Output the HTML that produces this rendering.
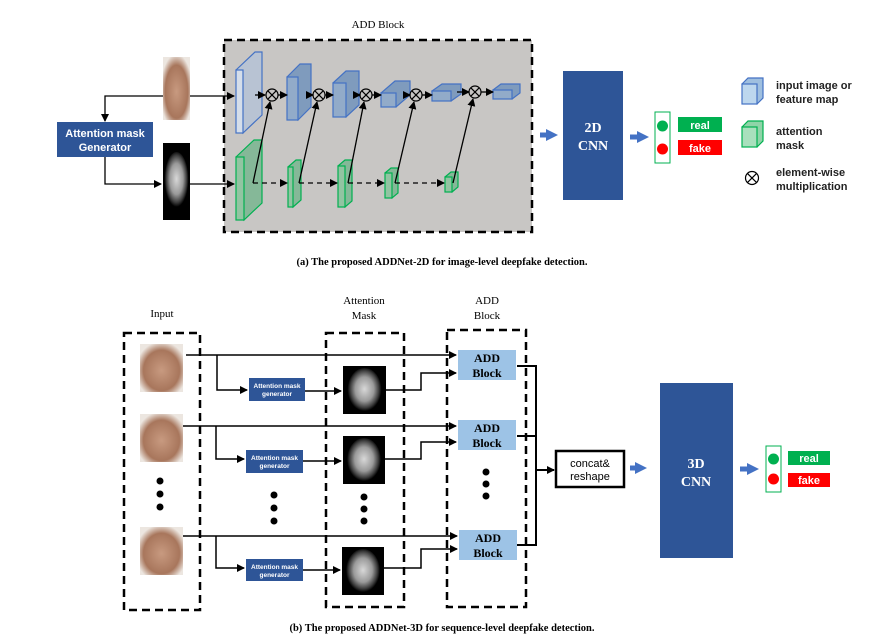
<!DOCTYPE html>
<html><head><meta charset="utf-8"><style>body{margin:0;background:#fff}svg{display:block}</style></head><body>
<svg width="884" height="643" viewBox="0 0 884 643" xmlns="http://www.w3.org/2000/svg" font-family="Liberation Sans, sans-serif">
<defs>
<marker id="a" markerWidth="8" markerHeight="8" refX="7" refY="4" orient="auto" markerUnits="userSpaceOnUse"><path d="M0,0 L8,4 L0,8z" fill="#000"/></marker>
<radialGradient id="m" cx="50%" cy="48%" r="50%"><stop offset="0" stop-color="#d8d8d8"/><stop offset="0.55" stop-color="#9a9a9a"/><stop offset="0.85" stop-color="#3a3a3a"/><stop offset="1" stop-color="#000"/></radialGradient>
<radialGradient id="f" cx="50%" cy="55%" r="60%"><stop offset="0" stop-color="#c89a80"/><stop offset="0.7" stop-color="#a8765c"/><stop offset="1" stop-color="#ece6e0"/></radialGradient>
<marker id="b" markerWidth="12" markerHeight="12" refX="6" refY="6" orient="auto" markerUnits="userSpaceOnUse"><path d="M0,0 L12,6 L0,12z" fill="#4472c4"/></marker>
</defs>
<!-- (a) -->
<text x="378" y="28" font-size="11" text-anchor="middle" font-family="Liberation Serif, serif">ADD Block</text>
<rect x="224" y="40" width="308" height="192" fill="#c8c6c4" stroke="#000" stroke-width="2.5" stroke-dasharray="8,5"/>
<rect x="163" y="57" width="27" height="63" fill="url(#f)"/>
<rect x="163" y="143" width="27" height="77" fill="#000"/>
<ellipse cx="176.5" cy="180" rx="12" ry="28" fill="url(#m)"/>
<rect x="57" y="122" width="96" height="35" fill="#2e5597"/>
<text x="105" y="137" font-size="11" fill="#fff" font-weight="bold" text-anchor="middle">Attention mask</text>
<text x="105" y="151" font-size="11" fill="#fff" font-weight="bold" text-anchor="middle">Generator</text>
<g stroke="#000" stroke-width="1.3" fill="none">
<polyline points="163,96 105,96 105,121" marker-end="url(#a)"/>
<polyline points="105,157 105,184 161,184" marker-end="url(#a)"/>
<line x1="190" y1="96" x2="234" y2="96" marker-end="url(#a)"/>
<line x1="190" y1="184" x2="234" y2="184" marker-end="url(#a)"/>
</g>
<g stroke-width="1.2">
<!-- blue cubes -->
<g fill="#8fa9c8" stroke="#4472c4">
<path d="M236,70 l19,-18 h7 v63 l-19,18z" fill="#b8c3d3"/><rect x="236" y="70" width="7" height="63" fill="#d5deea"/>
<path d="M287,77 l13,-13 h11 v43 l-13,13z" fill="#7f9bbd"/><rect x="287" y="77" width="11" height="43" fill="#92abc9"/>
<path d="M333,83 l13,-12 h13 v34 l-13,12z" fill="#7f9bbd"/><rect x="333" y="83" width="13" height="34" fill="#92abc9"/>
<path d="M381,93 l14,-12 h15 v14 l-14,12z" fill="#7f9bbd"/><rect x="381" y="93" width="15" height="14" fill="#92abc9"/>
<path d="M432,91 l10,-7 h19 v10 l-10,7z" fill="#7f9bbd"/><rect x="432" y="91" width="19" height="10" fill="#92abc9"/>
<path d="M493,90 l8,-6 h19 v9 l-8,6z" fill="#7f9bbd"/><rect x="493" y="90" width="19" height="9" fill="#92abc9"/>
</g>
<g stroke="#00b050">
<path d="M236,157 l18,-17 h8 v63 l-18,17z" fill="#85b898"/><rect x="236" y="157" width="8" height="63" fill="#92c4a2"/>
<path d="M288,167 l8,-7 h5 v40 l-8,7z" fill="#85b898"/><rect x="288" y="167" width="5" height="40" fill="#92c4a2"/>
<path d="M338,166 l7,-6 h7 v41 l-7,6z" fill="#85b898"/><rect x="338" y="166" width="7" height="41" fill="#92c4a2"/>
<path d="M385,173 l6,-5 h7 v25 l-6,5z" fill="#85b898"/><rect x="385" y="173" width="7" height="25" fill="#92c4a2"/>
<path d="M445,177 l6,-5 h7 v15 l-6,5z" fill="#85b898"/><rect x="445" y="177" width="7" height="15" fill="#92c4a2"/>
</g>
</g>
<g stroke="#000" stroke-width="1.3" fill="none">
<line x1="255" y1="95" x2="265" y2="95" marker-end="url(#a)"/>
<line x1="278" y1="95" x2="287" y2="95" marker-end="url(#a)"/>
<line x1="307" y1="95" x2="313" y2="95" marker-end="url(#a)"/>
<line x1="325" y1="95" x2="333" y2="95" marker-end="url(#a)"/>
<line x1="354" y1="95" x2="360" y2="95" marker-end="url(#a)"/>
<line x1="372" y1="95" x2="381" y2="95" marker-end="url(#a)"/>
<line x1="403" y1="95" x2="410" y2="95" marker-end="url(#a)"/>
<line x1="422" y1="95" x2="432" y2="95" marker-end="url(#a)"/>
<line x1="457" y1="92" x2="469" y2="92" marker-end="url(#a)"/>
<line x1="481" y1="92" x2="493" y2="92" marker-end="url(#a)"/>
<g stroke-dasharray="5,4">
<line x1="253" y1="183" x2="287" y2="183" marker-end="url(#a)"/>
<line x1="299" y1="183" x2="337" y2="183" marker-end="url(#a)"/>
<line x1="348" y1="183" x2="384" y2="183" marker-end="url(#a)"/>
<line x1="395" y1="183" x2="444" y2="183" marker-end="url(#a)"/>
</g>
<line x1="253" y1="183" x2="270" y2="102" marker-end="url(#a)"/>
<line x1="299" y1="183" x2="317" y2="102" marker-end="url(#a)"/>
<line x1="348" y1="183" x2="364" y2="102" marker-end="url(#a)"/>
<line x1="395" y1="183" x2="414" y2="102" marker-end="url(#a)"/>
<line x1="453" y1="183" x2="473" y2="99" marker-end="url(#a)"/>
</g>
<g stroke="#000" stroke-width="1.2" fill="none">
<g id="ot"><circle cx="272" cy="95" r="6"/><path d="M267.8,90.8l8.4,8.4M276.2,90.8l-8.4,8.4"/></g>
<use href="#ot" x="47"/><use href="#ot" x="94"/><use href="#ot" x="144"/><use href="#ot" x="203" y="-3"/>
</g>
<line x1="540" y1="135" x2="552" y2="135" stroke="#4472c4" stroke-width="5" marker-end="url(#b)"/>
<rect x="563" y="71" width="60" height="129" fill="#2e5597"/>
<text x="593" y="132" font-size="14" fill="#fff" font-weight="bold" text-anchor="middle" font-family="Liberation Serif, serif">2D</text>
<text x="593" y="150" font-size="14" fill="#fff" font-weight="bold" text-anchor="middle" font-family="Liberation Serif, serif">CNN</text>
<line x1="630" y1="137" x2="643" y2="137" stroke="#4472c4" stroke-width="5" marker-end="url(#b)"/>
<rect x="655" y="112" width="15" height="51" fill="#fff" stroke="#00b050" stroke-width="1"/>
<circle cx="662.5" cy="126" r="5.5" fill="#00b050"/><circle cx="662.5" cy="149" r="5.5" fill="#f00"/>
<rect x="678" y="117" width="44" height="15" fill="#00b050"/><text x="700" y="129" font-size="11" fill="#fff" font-weight="bold" text-anchor="middle">real</text>
<rect x="678" y="140" width="44" height="15" fill="#f00"/><text x="700" y="152" font-size="11" fill="#fff" font-weight="bold" text-anchor="middle">fake</text>
<path d="M742,84 l6,-6 h15 v20 l-6,6z" fill="#9fbfdf" stroke="#4472c4" stroke-width="1.2"/><rect x="742" y="84" width="15" height="20" fill="#bdd7ee" stroke="#4472c4" stroke-width="1.2"/>
<path d="M742,127 l6,-6 h15 v20 l-6,6z" fill="#8fd4a8" stroke="#00b050" stroke-width="1.2"/><rect x="742" y="127" width="15" height="20" fill="#a9e0bd" stroke="#00b050" stroke-width="1.2"/>
<g stroke="#000" stroke-width="1.2" fill="none"><circle cx="752" cy="178" r="6.5"/><path d="M747.4,173.4l9.2,9.2M756.6,173.4l-9.2,9.2"/></g>
<g font-size="11" font-weight="bold" fill="#222">
<text x="776" y="89">input image or</text><text x="776" y="103">feature map</text>
<text x="776" y="135">attention</text><text x="776" y="149">mask</text>
<text x="776" y="176">element-wise</text><text x="776" y="190">multiplication</text>
</g>
<text x="442" y="265" font-size="10.5" font-weight="bold" text-anchor="middle" font-family="Liberation Serif, serif">(a) The proposed ADDNet-2D for image-level deepfake detection.</text>
<!-- (b) -->
<g font-size="11" text-anchor="middle" font-family="Liberation Serif, serif">
<text x="162" y="317">Input</text>
<text x="364" y="304">Attention</text><text x="364" y="319">Mask</text>
<text x="487" y="304">ADD</text><text x="487" y="319">Block</text>
</g>
<g fill="none" stroke="#000" stroke-width="2.5" stroke-dasharray="8,5">
<rect x="124" y="333" width="76" height="277"/>
<rect x="326" y="333" width="78" height="274"/>
<rect x="447" y="330" width="79" height="277"/>
</g>
<rect x="140" y="344" width="43" height="48" fill="url(#f)"/>
<rect x="140" y="414" width="43" height="48" fill="url(#f)"/>
<rect x="140" y="527" width="43" height="48" fill="url(#f)"/>
<rect x="343" y="366" width="43" height="48" fill="#000"/><ellipse cx="364.5" cy="390" rx="17" ry="22" fill="url(#m)"/>
<rect x="343" y="436" width="42" height="48" fill="#000"/><ellipse cx="364" cy="460" rx="17" ry="22" fill="url(#m)"/>
<rect x="342" y="547" width="42" height="48" fill="#000"/><ellipse cx="363" cy="571" rx="17" ry="22" fill="url(#m)"/>
<g fill="#2e5597">
<rect x="249" y="378" width="56" height="23"/><rect x="246" y="450" width="57" height="23"/><rect x="246" y="559" width="57" height="22"/>
</g>
<g font-size="6.5" fill="#fff" font-weight="bold" text-anchor="middle">
<text x="277" y="388">Attention mask</text><text x="277" y="396">generator</text>
<text x="274.5" y="460">Attention mask</text><text x="274.5" y="468">generator</text>
<text x="274.5" y="569">Attention mask</text><text x="274.5" y="577">generator</text>
</g>
<g fill="#9dc3e6"><rect x="458" y="350" width="58" height="30"/><rect x="458" y="420" width="58" height="30"/><rect x="459" y="530" width="58" height="30"/></g>
<g font-size="12" font-weight="bold" text-anchor="middle" font-family="Liberation Serif, serif">
<text x="487" y="362">ADD</text><text x="487" y="377">Block</text>
<text x="487" y="432">ADD</text><text x="487" y="447">Block</text>
<text x="488" y="542">ADD</text><text x="488" y="557">Block</text>
</g>
<g fill="#000">
<circle cx="160" cy="481" r="3.5"/><circle cx="160" cy="494" r="3.5"/><circle cx="160" cy="507" r="3.5"/>
<circle cx="274" cy="495" r="3.5"/><circle cx="274" cy="508" r="3.5"/><circle cx="274" cy="521" r="3.5"/>
<circle cx="364" cy="497" r="3.5"/><circle cx="364" cy="509" r="3.5"/><circle cx="364" cy="521" r="3.5"/>
<circle cx="486" cy="472" r="3.5"/><circle cx="486" cy="484" r="3.5"/><circle cx="486" cy="496" r="3.5"/>
</g>
<g stroke="#000" stroke-width="1.5" fill="none">
<line x1="186" y1="355" x2="456" y2="355" marker-end="url(#a)"/>
<polyline points="217,355 217,390 247,390" marker-end="url(#a)"/>
<line x1="305" y1="391" x2="341" y2="391" marker-end="url(#a)"/>
<polyline points="386,390 421,390 421,373 456,373" marker-end="url(#a)"/>
<line x1="183" y1="426" x2="456" y2="426" marker-end="url(#a)"/>
<polyline points="216,426 216,459 244,459" marker-end="url(#a)"/>
<line x1="303" y1="461" x2="341" y2="461" marker-end="url(#a)"/>
<polyline points="385,459 421,459 421,442 456,442" marker-end="url(#a)"/>
<line x1="183" y1="536" x2="457" y2="536" marker-end="url(#a)"/>
<polyline points="216,536 216,568 244,568" marker-end="url(#a)"/>
<line x1="303" y1="570" x2="340" y2="570" marker-end="url(#a)"/>
<polyline points="384,568 421,568 421,549 457,549" marker-end="url(#a)"/>
</g>
<g stroke="#000" stroke-width="2" fill="none">
<polyline points="517,366 536,366 536,545 517,545"/><line x1="517" y1="436" x2="536" y2="436"/>
<line x1="536" y1="470" x2="554" y2="470" marker-end="url(#a)"/>
</g>
<rect x="556" y="451" width="68" height="36" fill="#fff" stroke="#000" stroke-width="2.5"/>
<text x="590" y="467" font-size="11" text-anchor="middle">concat&amp;</text>
<text x="590" y="480" font-size="11" text-anchor="middle">reshape</text>
<line x1="630" y1="468" x2="641" y2="468" stroke="#4472c4" stroke-width="5" marker-end="url(#b)"/>
<rect x="660" y="383" width="73" height="175" fill="#2e5597"/>
<text x="696" y="468" font-size="14" fill="#fff" font-weight="bold" text-anchor="middle" font-family="Liberation Serif, serif">3D</text>
<text x="696" y="486" font-size="14" fill="#fff" font-weight="bold" text-anchor="middle" font-family="Liberation Serif, serif">CNN</text>
<line x1="740" y1="469" x2="753" y2="469" stroke="#4472c4" stroke-width="5" marker-end="url(#b)"/>
<rect x="766" y="446" width="15" height="46" fill="#fff" stroke="#00b050" stroke-width="1"/>
<circle cx="773.5" cy="459" r="5.5" fill="#00b050"/><circle cx="773.5" cy="479" r="5.5" fill="#f00"/>
<rect x="788" y="451" width="42" height="14" fill="#00b050"/><text x="809" y="462" font-size="11" fill="#fff" font-weight="bold" text-anchor="middle">real</text>
<rect x="788" y="473" width="42" height="14" fill="#f00"/><text x="809" y="484" font-size="11" fill="#fff" font-weight="bold" text-anchor="middle">fake</text>
<text x="442" y="631" font-size="10.5" font-weight="bold" text-anchor="middle" font-family="Liberation Serif, serif">(b) The proposed ADDNet-3D for sequence-level deepfake detection.</text>
</svg>
</body></html>
